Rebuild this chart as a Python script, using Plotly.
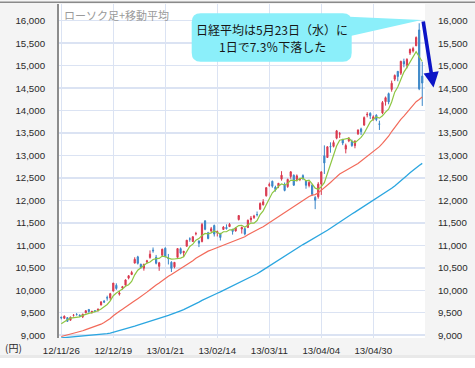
import plotly.graph_objects as go

# ---------------- data ----------------
dates = ["12/11/26","12/11/27","12/11/28","12/11/29","12/11/30","12/12/03","12/12/04","12/12/05","12/12/06","12/12/07",
"12/12/10","12/12/11","12/12/12","12/12/13","12/12/14","12/12/17","12/12/18","12/12/19","12/12/20","12/12/21",
"12/12/25","12/12/26","12/12/27","12/12/28","13/01/04","13/01/07","13/01/08","13/01/09","13/01/10","13/01/11",
"13/01/15","13/01/16","13/01/17","13/01/18","13/01/21","13/01/22","13/01/23","13/01/24","13/01/25","13/01/28",
"13/01/29","13/01/30","13/01/31","13/02/01","13/02/04","13/02/05","13/02/06","13/02/07","13/02/08","13/02/12",
"13/02/13","13/02/14","13/02/15","13/02/18","13/02/19","13/02/20","13/02/21","13/02/22","13/02/25","13/02/26",
"13/02/27","13/02/28","13/03/01","13/03/04","13/03/05","13/03/06","13/03/07","13/03/08","13/03/11","13/03/12",
"13/03/13","13/03/14","13/03/15","13/03/18","13/03/19","13/03/21","13/03/22","13/03/25","13/03/26","13/03/27",
"13/03/28","13/03/29","13/04/01","13/04/02","13/04/03","13/04/04","13/04/05","13/04/08","13/04/09","13/04/10",
"13/04/11","13/04/12","13/04/15","13/04/16","13/04/17","13/04/18","13/04/19","13/04/22","13/04/23","13/04/24",
"13/04/25","13/04/26","13/04/30","13/05/01","13/05/02","13/05/07","13/05/08","13/05/09","13/05/10","13/05/13",
"13/05/14","13/05/15","13/05/16","13/05/17","13/05/20","13/05/21","13/05/22","13/05/23","13/05/24"]

opens = [9402, 9376, 9390, 9333, 9441, 9463, 9447, 9410, 9499, 9573,
 9503, 9546, 9555, 9673, 9755, 9835, 9830, 9981, 10110, 9913,
 10050, 10113, 10270, 10352, 10604, 10743, 10577, 10492, 10633, 10730,
 10894, 10734, 10532, 10780, 10936, 10718, 10622, 10521, 10733, 10926,
 10835, 10980, 11142, 11086, 11257, 11098, 11086, 11548, 11279, 11319,
 11440, 11279, 11252, 11353, 11400, 11416, 11358, 11318, 11574, 11364,
 11371, 11395, 11570, 11619, 11684, 11803, 11902, 12104, 12335, 12426,
 12298, 12319, 12474, 12348, 12307, 12533, 12561, 12465, 12465, 12552,
 12436, 12331, 12338, 12065, 12082, 12365, 12993, 12955, 13200, 13203,
 13384, 13473, 13361, 13142, 13326, 13317, 13219, 13481, 13592, 13678,
 13904, 13940, 13800, 13897, 13704, 13948, 14198, 14377, 14470, 14698,
 14873, 14832, 15094, 15008, 15280, 15326, 15440, 15795, 14767]

highs = [9410, 9437, 9395, 9412, 9469, 9489, 9460, 9473, 9557, 9576,
 9535, 9559, 9585, 9746, 9784, 9879, 9942, 10160, 10154, 9985,
 10096, 10242, 10335, 10433, 10734, 10767, 10593, 10589, 10677, 10887,
 10952, 10786, 10632, 10925, 10955, 10808, 10647, 10627, 10935, 10952,
 10876, 11114, 11178, 11200, 11300, 11108, 11498, 11548, 11300, 11409,
 11462, 11328, 11279, 11428, 11467, 11498, 11360, 11404, 11670, 11418,
 11386, 11572, 11653, 11679, 11753, 11956, 12028, 12289, 12397, 12440,
 12328, 12388, 12651, 12398, 12483, 12650, 12577, 12578, 12498, 12580,
 12453, 12435, 12363, 12096, 12406, 12650, 13225, 13203, 13293, 13336,
 13568, 13524, 13363, 13264, 13411, 13352, 13341, 13579, 13619, 13870,
 13965, 13960, 13894, 13917, 13775, 14213, 14312, 14400, 14667, 14803,
 14873, 15108, 15155, 15165, 15381, 15420, 15650, 15943, 15081]

lows = [9353, 9358, 9295, 9325, 9413, 9437, 9410, 9381, 9488, 9500,
 9481, 9514, 9525, 9662, 9715, 9768, 9778, 9975, 10009, 9880,
 10013, 10107, 10243, 10337, 10598, 10573, 10478, 10436, 10596, 10702,
 10835, 10576, 10432, 10747, 10732, 10574, 10406, 10488, 10730, 10800,
 10738, 10974, 11080, 11074, 11221, 10961, 11065, 11335, 11134, 11300,
 11196, 11198, 11107, 11343, 11352, 11408, 11238, 11309, 11553, 11262,
 11222, 11393, 11511, 11587, 11643, 11794, 11887, 12084, 12303, 12282,
 12196, 12273, 12439, 12202, 12281, 12482, 12322, 12422, 12429, 12451,
 12260, 12290, 12097, 11805, 12039, 12122, 12588, 12954, 13062, 13179,
 13360, 13391, 13230, 13047, 13296, 13193, 13160, 13457, 13456, 13659,
 13849, 13813, 13776, 13763, 13568, 13919, 14110, 14140, 14420, 14656,
 14652, 14792, 14963, 14938, 15237, 15292, 15440, 14454, 14103]

closes = [9389, 9423, 9308, 9401, 9446, 9458, 9432, 9469, 9545, 9527,
 9534, 9525, 9581, 9743, 9738, 9829, 9923, 10160, 10039, 9940,
 10080, 10230, 10323, 10395, 10688, 10599, 10508, 10579, 10653, 10802,
 10879, 10600, 10610, 10913, 10748, 10710, 10487, 10621, 10927, 10824,
 10867, 11114, 11139, 11191, 11260, 11047, 11464, 11357, 11153, 11369,
 11251, 11307, 11174, 11408, 11372, 11468, 11309, 11386, 11663, 11399,
 11254, 11559, 11606, 11652, 11683, 11932, 11968, 12284, 12349, 12315,
 12240, 12381, 12561, 12221, 12468, 12636, 12339, 12546, 12472, 12494,
 12336, 12398, 12135, 12003, 12362, 12635, 12834, 13193, 13192, 13288,
 13549, 13485, 13276, 13221, 13383, 13220, 13316, 13568, 13530, 13843,
 13915, 13884, 13861, 13799, 13694, 14180, 14286, 14191, 14608, 14782,
 14758, 15096, 15037, 15138, 15361, 15381, 15627, 14484, 14612]

ma5 = [9255, 9309, 9342, 9378, 9393, 9407, 9409, 9441, 9470, 9486,
 9501, 9520, 9542, 9582, 9624, 9683, 9763, 9879, 9938, 9978,
 10028, 10090, 10122, 10194, 10343, 10447, 10503, 10554, 10605, 10628,
 10684, 10703, 10709, 10761, 10750, 10716, 10694, 10696, 10699, 10714,
 10745, 10871, 10974, 11027, 11114, 11150, 11220, 11264, 11256, 11278,
 11319, 11287, 11251, 11302, 11302, 11346, 11346, 11389, 11440, 11445,
 11402, 11452, 11496, 11494, 11551, 11686, 11768, 11904, 12043, 12170,
 12231, 12314, 12369, 12344, 12374, 12453, 12445, 12442, 12492, 12497,
 12437, 12449, 12367, 12273, 12247, 12307, 12394, 12605, 12843, 13028,
 13211, 13341, 13358, 13364, 13383, 13317, 13283, 13342, 13403, 13495,
 13634, 13748, 13807, 13860, 13831, 13884, 13964, 14030, 14192, 14409,
 14525, 14687, 14856, 14962, 15078, 15203, 15309, 15198, 15093]

ma25 = [8970, 8987, 9002, 9020, 9036, 9057, 9077, 9098, 9123, 9146,
 9167, 9189, 9214, 9245, 9281, 9324, 9373, 9433, 9488, 9533,
 9575, 9618, 9665, 9712, 9765, 9813, 9857, 9908, 9958, 10012,
 10069, 10116, 10161, 10216, 10265, 10312, 10350, 10392, 10439, 10483,
 10524, 10572, 10611, 10657, 10710, 10749, 10798, 10839, 10870, 10897,
 10923, 10955, 10979, 11009, 11032, 11055, 11084, 11115, 11145, 11171,
 11192, 11235, 11275, 11304, 11338, 11381, 11415, 11461, 11507, 11549,
 11597, 11634, 11682, 11724, 11768, 11824, 11865, 11920, 11963, 12007,
 12042, 12086, 12116, 12129, 12168, 12223, 12274, 12337, 12399, 12463,
 12528, 12589, 12628, 12663, 12706, 12745, 12783, 12823, 12875, 12930,
 12981, 13043, 13096, 13149, 13197, 13271, 13346, 13428, 13533, 13629,
 13714, 13805, 13878, 13956, 14039, 14113, 14198, 14247, 14302]

ma75 = [8938, 8944, 8949, 8956, 8963, 8970, 8975, 8979, 8984, 8989,
 8994, 8999, 9006, 9015, 9024, 9035, 9047, 9065, 9081, 9097,
 9116, 9136, 9156, 9176, 9201, 9223, 9243, 9262, 9282, 9303,
 9327, 9347, 9368, 9392, 9417, 9440, 9462, 9486, 9514, 9542,
 9569, 9599, 9631, 9666, 9702, 9735, 9774, 9809, 9840, 9872,
 9902, 9933, 9963, 9996, 10026, 10060, 10092, 10125, 10161, 10194,
 10224, 10258, 10293, 10329, 10367, 10409, 10453, 10502, 10551, 10597,
 10640, 10683, 10729, 10769, 10810, 10853, 10892, 10935, 10976, 11017,
 11055, 11095, 11130, 11163, 11201, 11242, 11287, 11335, 11381, 11428,
 11478, 11525, 11567, 11609, 11655, 11697, 11738, 11781, 11823, 11865,
 11909, 11954, 11998, 12040, 12079, 12123, 12172, 12220, 12269, 12323,
 12377, 12438, 12497, 12553, 12614, 12674, 12734, 12778, 12824]

tick_labels = ["12/11/26", "12/12/19", "13/01/21", "13/02/14", "13/03/11", "13/04/04", "13/04/30"]
y_ticks = [9000, 9500, 10000, 10500, 11000, 11500, 12000, 12500, 13000,
           13500, 14000, 14500, 15000, 15500, 16000]

chart_title = "ローソク足+移動平均"
callout_line1 = "日経平均は5月23日（水）に"
callout_line2 = "1日で7.3％下落した"
unit_label = "(円)"

# ---------------- styling / geometry ----------------
W, H = 475, 368
PL, PR, PT, PB = 59, 425, 4, 338          # plot area in pixels
def px(xp):  # pixel -> paper x
    return (xp - PL) / (PR - PL)
def py(yp):  # pixel -> paper y
    return (PB - yp) / (PB - PT)

RED = "#d9394f"
BLUE = "#3a86c8"
GRID = "#dbe3f3"
TICKFONT = dict(family="Liberation Sans, Arial, sans-serif", size=9.7, color="#2a2a2a")
JP = "Noto Sans CJK JP, sans-serif"

fig = go.Figure()
fig.add_trace(go.Candlestick(
    x=dates, open=opens, high=highs, low=lows, close=closes,
    increasing=dict(line=dict(color=RED, width=1), fillcolor=RED),
    decreasing=dict(line=dict(color=BLUE, width=1), fillcolor=BLUE),
    whiskerwidth=0, hoverinfo="skip", showlegend=False))

for vals, col, w in [(ma75, "#2ba6e0", 1.3), (ma25, "#f26a5a", 1.2), (ma5, "#8dc641", 1.2)]:
    fig.add_trace(go.Scatter(x=dates, y=vals, mode="lines",
                             line=dict(color=col, width=w),
                             hoverinfo="skip", showlegend=False))

# invisible trace to carry the right-hand axis
fig.add_trace(go.Scatter(x=dates, y=closes, yaxis="y2", mode="lines",
                         line=dict(width=0, color="rgba(0,0,0,0)"),
                         hoverinfo="skip", showlegend=False))

yr = [8937, 16372]
fig.update_layout(
    width=W, height=H,
    margin=dict(l=PL, r=W - PR, t=PT, b=H - PB, pad=0),
    paper_bgcolor="#f4f4f4", plot_bgcolor="white",
    boxgap=0.45,
    showlegend=False,
    hovermode=False,
    xaxis=dict(type="category", range=[-0.75, 118.9],
               tickvals=tick_labels, ticktext=tick_labels,
               showgrid=True, gridcolor=GRID, gridwidth=1.5,
               zeroline=False, showline=False,
               ticks="outside", ticklen=3, tickcolor="rgba(0,0,0,0)",
               tickfont=TICKFONT, rangeslider=dict(visible=False),
               fixedrange=True),
    yaxis=dict(range=yr, tickvals=y_ticks, tickformat=",",
               showgrid=True, gridcolor=GRID, gridwidth=1.5,
               zeroline=False, showline=True, linecolor="#8c8c8c", linewidth=2,
               ticks="outside", ticklen=10, tickcolor="rgba(0,0,0,0)",
               tickfont=TICKFONT, fixedrange=True),
    yaxis2=dict(range=yr, tickvals=y_ticks, tickformat=",",
                overlaying="y", side="right",
                showgrid=False, zeroline=False, showline=False,
                ticks="outside", ticklen=10, tickcolor="rgba(0,0,0,0)",
                tickfont=TICKFONT, fixedrange=True),
)

shapes = []
# top frame line across the whole picture
shapes.append(dict(type="line", xref="paper", yref="paper",
                   x0=px(0), x1=px(W), y0=py(2.2), y1=py(2.2),
                   line=dict(color="#8a8a8a", width=1.5)))
# bottom band
shapes.append(dict(type="rect", xref="paper", yref="paper",
                   x0=px(0), x1=px(W), y0=py(355), y1=py(358),
                   fillcolor="#e9e9e9", line=dict(width=0)))
shapes.append(dict(type="rect", xref="paper", yref="paper",
                   x0=px(0), x1=px(W), y0=py(358), y1=py(H),
                   fillcolor="white", line=dict(width=0)))

# callout: rounded box
bx0, bx1, by0, by1, r = 191.7, 351.7, 13.3, 61.7, 9
def P(a, b):
    return f"{px(a):.5f},{py(b):.5f}"
path = (f"M {P(bx0 + r, by0)} L {P(bx1 - r, by0)} Q {P(bx1, by0)} {P(bx1, by0 + r)} "
        f"L {P(bx1, by1 - r)} Q {P(bx1, by1)} {P(bx1 - r, by1)} "
        f"L {P(bx0 + r, by1)} Q {P(bx0, by1)} {P(bx0, by1 - r)} "
        f"L {P(bx0, by0 + r)} Q {P(bx0, by0)} {P(bx0 + r, by0)} Z")
CYAN = "#8befFA"
shapes.append(dict(type="path", xref="paper", yref="paper", path=path,
                   fillcolor=CYAN, line=dict(width=0), layer="above"))
# callout pointer
wedge = f"M {P(344, 16.5)} L {P(421.5, 20)} L {P(350.5, 36)} Z"
shapes.append(dict(type="path", xref="paper", yref="paper", path=wedge,
                   fillcolor=CYAN, line=dict(width=0), layer="above"))
fig.update_layout(shapes=shapes)

ann = []
ann.append(dict(xref="paper", yref="paper", x=px(272), y=py(29.5), text=callout_line1,
                showarrow=False, xanchor="center", yanchor="middle",
                font=dict(family=JP, size=12, color="#161616")))
ann.append(dict(xref="paper", yref="paper", x=px(272), y=py(46), text=callout_line2,
                showarrow=False, xanchor="center", yanchor="middle",
                font=dict(family=JP, size=12, color="#161616")))
ann.append(dict(xref="paper", yref="paper", x=px(62), y=py(14.5), text=chart_title,
                showarrow=False, xanchor="left", yanchor="middle",
                font=dict(family=JP, size=11, color="#9a9a9a")))
ann.append(dict(xref="paper", yref="paper", x=px(3), y=py(348), text=unit_label,
                showarrow=False, xanchor="left", yanchor="middle",
                font=dict(family=JP, size=10, color="#2a2a2a")))
# blue drop arrow
ann.append(dict(xref="paper", yref="paper", x=px(433.5), y=py(87.5), text="",
                showarrow=True, ax=-10.5, ay=-67.5, arrowhead=2,
                arrowwidth=3.6, arrowsize=0.85, arrowcolor="#0c14c6", standoff=0))
fig.update_layout(annotations=ann)

fig.write_html("out.html",
               config={"displayModeBar": False, "staticPlot": True},
               post_script="document.body.style.margin='0';document.body.style.padding='0';")
